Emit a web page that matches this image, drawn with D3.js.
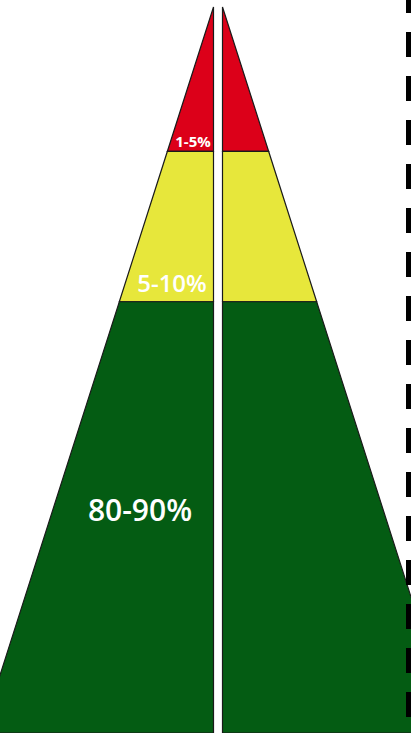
<!DOCTYPE html>
<html>
<head>
<meta charset="utf-8">
<script src="https://cdn.jsdelivr.net/npm/d3@7"></script>
<style>
  html, body { margin: 0; padding: 0; background: #fff; }
  svg { display: block; }
</style>
</head>
<body>
<svg id="chart" width="411" height="733"></svg>
<script>
// tiers from top to bottom, with where each one ends (fraction of pyramid height)
var tiers = ["top", "middle", "bottom"];
var tier_labels = ["1-5%", "5-10%", "80-90%"];
var tier_ends = [0.199, 0.406, 1.0];
var tier_colors = ["#dc0019", "#e7e73b", "#045c13"];

var width = 411, height = 733;
var svg = d3.select("#chart");

var y = d3.scaleLinear().domain([0, 1]).range([7, 733]);
// half-width of the pyramid at a given depth
var spread = d3.scaleLinear().domain([0, 1]).range([0, 232]);

var left_edge = 213.5, right_edge = 222.5;

function half_path(side, t0, t1) {
  var pts;
  if (side == "left") {
    pts = [[left_edge - spread(t0), y(t0)], [left_edge, y(t0)],
           [left_edge, y(t1)], [left_edge - spread(t1), y(t1)]];
  } else {
    pts = [[right_edge, y(t0)], [right_edge + spread(t0), y(t0)],
           [right_edge + spread(t1), y(t1)], [right_edge, y(t1)]];
  }
  return d3.line()(pts) + "Z";
}

var rows = tiers.map(function(t, i) {
  return {name: t, label: tier_labels[i], color: tier_colors[i],
          t0: i == 0 ? 0 : tier_ends[i - 1], t1: tier_ends[i]};
});

["left", "right"].forEach(function(side) {
  svg.selectAll(".tier-" + side)
      .data(rows)
    .enter().append("path")
      .attr("class", "tier-" + side)
      .attr("d", function(d) { return half_path(side, d.t0, d.t1); })
      .style("fill", function(d) { return d.color; })
      .style("stroke", "#1a1a1a")
      .style("stroke-width", 1.2)
      .style("stroke-linejoin", "miter");
});

// labels sit at the bottom of each left-hand tier
var label_pos = [
  {x: 193, y: 147, size: 15, weight: 700},
  {x: 172, y: 292, size: 24, weight: 600},
  {x: 140, y: 521, size: 30, weight: 600}
];

svg.selectAll(".tier-label")
    .data(rows)
  .enter().append("text")
    .attr("class", "tier-label")
    .attr("x", function(d, i) { return label_pos[i].x; })
    .attr("y", function(d, i) { return label_pos[i].y; })
    .text(function(d) { return d.label; })
    .style("fill", "white")
    .style("text-anchor", "middle")
    .style("font-family", "'Open Sans', sans-serif")
    .style("font-weight", function(d, i) { return label_pos[i].weight; })
    .style("font-size", function(d, i) { return label_pos[i].size + "px"; });

// dashed frame on the right edge
svg.append("line")
    .attr("x1", 408.5).attr("x2", 408.5)
    .attr("y1", 0).attr("y2", height)
    .style("stroke", "#000")
    .style("stroke-width", 5)
    .style("stroke-dasharray", "25,19")
    .style("stroke-dashoffset", 12);
</script>
</body>
</html>
